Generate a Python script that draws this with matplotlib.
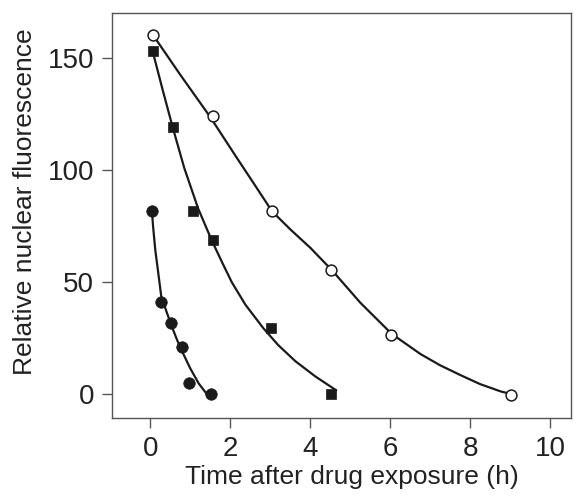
import matplotlib
matplotlib.use("Agg")
import matplotlib.pyplot as plt
from matplotlib import font_manager

# ---- data ----
open_t = [0.07, 1.56, 3.04, 4.53, 6.03, 9.02]
open_y = [160.5, 124.0, 81.7, 55.5, 26.7, -0.4]

sq_t = [0.06, 0.56, 1.07, 1.56, 3.02, 4.51]
sq_y = [153.0, 119.2, 81.8, 68.8, 29.5, 0.0]

fill_t = [0.04, 0.27, 0.52, 0.79, 0.98, 1.52]
fill_y = [82.0, 41.2, 32.0, 21.2, 5.2, 0.0]

# fitted curves
open_curve_t = [0.10, 0.75, 1.49, 2.17, 2.63, 3.05, 3.51, 4.01, 4.55, 5.26, 6.04, 6.76, 7.25, 7.76, 8.25, 8.77, 9.00]
open_curve_y = [159.5, 142.6, 124.0, 105.4, 93.0, 81.6, 73.5, 65.3, 55.3, 40.8, 27.0, 18.0, 13.0, 8.6, 4.6, 1.3, 0.3]

sq_curve_t = [0.06, 0.30, 0.56, 0.85, 1.20, 1.54, 1.80, 2.04, 2.38, 2.83, 3.20, 3.63, 4.13, 4.67]
sq_curve_y = [153.0, 136.5, 119.2, 101.0, 82.8, 68.6, 58.8, 50.0, 40.0, 29.5, 22.0, 14.8, 8.0, 1.6]

fill_curve_t = [0.04, 0.07, 0.125, 0.19, 0.275, 0.42, 0.54, 0.67, 0.82, 1.00, 1.21, 1.42]
fill_curve_y = [82.0, 74.9, 64.4, 55.5, 43.6, 36.2, 30.2, 24.3, 18.3, 11.6, 4.9, 0.0]

xticks = [0, 2, 4, 6, 8, 10]
yticks = [0, 50, 100, 150]

# ---- fonts ----
avail = {f.name for f in font_manager.fontManager.ttflist}
fam = "Liberation Sans Narrow" if "Liberation Sans Narrow" in avail else "Liberation Sans"
plt.rcParams['font.family'] = [fam, 'DejaVu Sans']

txt = '#222222'
spine_c = '#555555'
ink = '#1a1a1a'

fig = plt.figure(figsize=(5.79, 4.96), dpi=100)
ax = fig.add_axes([0.194, 0.157, 0.7917, 0.817])

lw = 1.6
for ct, cy in [(open_curve_t, open_curve_y), (sq_curve_t, sq_curve_y),
               (fill_curve_t, fill_curve_y)]:
    ax.plot(ct, cy, color=ink, lw=lw, solid_capstyle='butt',
            solid_joinstyle='round', zorder=2)

ax.plot(open_t, open_y, linestyle='none', marker='o', ms=7.8, mfc='white',
        mec=ink, mew=1.1, zorder=3)
ax.plot(sq_t, sq_y, linestyle='none', marker='s', ms=7.8, mfc=ink,
        mec=ink, mew=0.5, zorder=3)
ax.plot(fill_t, fill_y, linestyle='none', marker='o', ms=8.3, mfc=ink,
        mec=ink, mew=0.5, zorder=3)

ax.set_xlim(-0.95, 10.52)
ax.set_ylim(-10.6, 170.2)
ax.set_xticks(xticks)
ax.set_yticks(yticks)

for s in ax.spines.values():
    s.set_color(spine_c)
    s.set_linewidth(1.0)

ax.tick_params(axis='both', direction='out', length=7, width=1.0, color=spine_c,
               labelsize=20, labelcolor=txt, pad=6)
ax.tick_params(top=False, right=False)

ax.set_xlabel('Time after drug exposure (h)', fontsize=19, color=txt, labelpad=2)
ax.set_ylabel('Relative nuclear fluorescence', fontsize=19, color=txt, labelpad=8)
ax.xaxis.label.set_x(0.523)
ax.yaxis.label.set_y(0.535)

fig.savefig('out.png', dpi=100)
